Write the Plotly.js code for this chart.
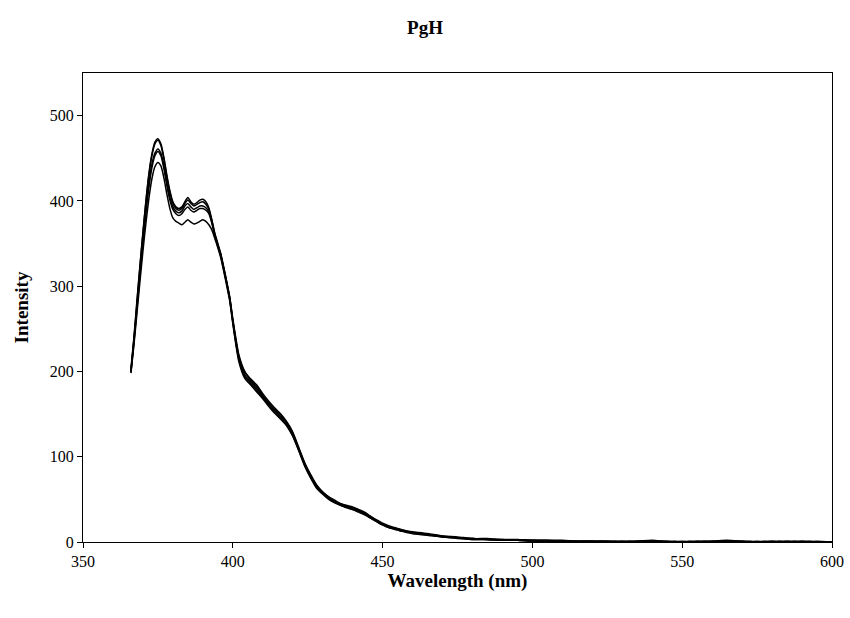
<!DOCTYPE html>
<html>
<head>
<meta charset="utf-8">
<script src="https://cdn.plot.ly/plotly-3.0.1.min.js"></script>
<style>html,body{margin:0;padding:0;background:#fff;}#chart{width:850px;height:618px;}</style>
</head>
<body>
<div id="chart"></div>
<script>
// Wavelength grid (nm)
const wavelength = [
  366,367,368,369,370,371,372,373,374,375,376,377,378,379,380,381,382,383,384,385,386,387,388,389,390,391,392,393,394,395,396,397,398,399,400,
  402,404,406,408,410,412,414,416,418,420,422,424,426,428,430,432,434,436,438,440,442,444,446,448,450,452,454,456,458,460,
  465,470,475,480,485,490,495,500,505,510,515,520,525,530,535,540,545,550,555,560,565,570,575,580,585,590,595,600
];

const run1 = [
  200,238,280,322,362,400,432,455,469,473,467,451,430,412,399,393,391,393,399,404,399,396,398,401,402,399,392,378,362,350,338,322,305,287,262,
  220,200,190,182,172,163,155,149,140,128,110,92,78,66,58,53,49,45,42,40,38,35,30,26,22,19,17,15,13,12,
  10,7,6,4,4,3,3,2,2,2,1,1,1,1,1,2,0,0,1,1,2,1,0,1,0,1,0,0
];
const run2 = [
  203,240,283,324,363,399,430,453,467,471,465,449,428,410,397,391,389,391,397,401,397,394,396,398,399,396,390,377,361,349,337,321,304,286,260,
  218,199,191,184,174,165,157,150,141,129,111,93,79,67,59,53,48,45,43,41,38,34,30,25,21,18,16,14,13,11,
  9,7,5,4,3,3,2,2,2,1,1,1,1,0,1,1,1,0,0,1,1,0,1,0,1,0,0,0
];
const run3 = [
  201,236,276,316,354,389,420,443,456,461,456,441,421,404,393,388,386,388,394,397,393,390,392,394,394,392,387,375,360,348,336,320,303,285,259,
  216,196,188,180,171,162,154,147,139,127,109,91,77,65,58,52,48,44,41,39,37,34,29,25,21,18,16,14,12,11,
  9,6,5,4,3,2,2,2,1,1,1,1,0,1,0,1,0,0,1,0,1,1,0,0,1,0,0,0
];
const run4 = [
  199,234,273,313,351,386,416,439,453,458,453,438,418,401,390,385,383,385,390,393,389,387,389,391,391,389,385,374,359,347,335,319,302,284,258,
  214,194,186,178,169,160,152,145,137,125,108,90,76,64,57,51,47,43,41,38,36,33,28,24,20,17,15,13,12,10,
  8,6,5,3,3,2,2,1,1,1,1,0,1,0,0,1,0,1,0,0,1,0,0,1,0,0,1,0
];
const run5 = [
  198,231,268,305,341,374,403,426,440,445,441,427,408,391,380,376,374,372,375,378,375,373,374,376,378,376,372,366,356,345,333,317,300,282,256,
  212,192,184,176,168,159,151,144,136,124,107,89,75,63,56,50,46,43,40,38,35,32,28,24,20,17,15,13,11,10,
  8,6,4,3,3,2,2,1,1,1,0,1,0,0,1,0,1,0,0,1,0,1,0,0,0,1,0,0
];

const series = [run1, run2, run3, run4, run5];
const serif = "Liberation Serif, Times New Roman, serif";

const traces = series.map((ys, i) => ({
  x: wavelength,
  y: ys,
  type: 'scatter',
  mode: 'lines',
  line: {color: '#000000', width: 1.5, shape: 'spline', smoothing: 0.6},
  name: 'run ' + (i + 1),
  showlegend: false,
  hoverinfo: 'x+y'
}));

const layout = {
  width: 850,
  height: 618,
  margin: {l: 83, r: 18, t: 73, b: 76},
  paper_bgcolor: '#ffffff',
  plot_bgcolor: '#ffffff',
  title: {
    text: '<b>PgH</b>',
    font: {family: serif, size: 19, color: '#000'},
    x: 0.5, xanchor: 'center',
    y: 0.955, yanchor: 'middle'
  },
  xaxis: {
    range: [350, 600],
    tick0: 350, dtick: 50,
    ticks: 'outside', ticklen: 5, tickcolor: '#000', tickwidth: 1,
    showgrid: false, zeroline: false,
    showline: true, linecolor: '#000', linewidth: 1, mirror: true,
    tickfont: {family: serif, size: 16, color: '#000'},
    title: {text: '<b>Wavelength (nm)</b>', font: {family: serif, size: 19, color: '#000'}, standoff: 3}
  },
  yaxis: {
    range: [0, 550],
    tick0: 0, dtick: 100,
    ticks: 'outside', ticklen: 5, tickcolor: '#000', tickwidth: 1,
    showgrid: false, zeroline: false,
    showline: true, linecolor: '#000', linewidth: 1, mirror: true,
    tickfont: {family: serif, size: 16, color: '#000'},
    title: {text: '<b>Intensity</b>', font: {family: serif, size: 19, color: '#000'}, standoff: 16}
  }
};

Plotly.newPlot('chart', traces, layout, {displayModeBar: false, staticPlot: true});
</script>
</body>
</html>
